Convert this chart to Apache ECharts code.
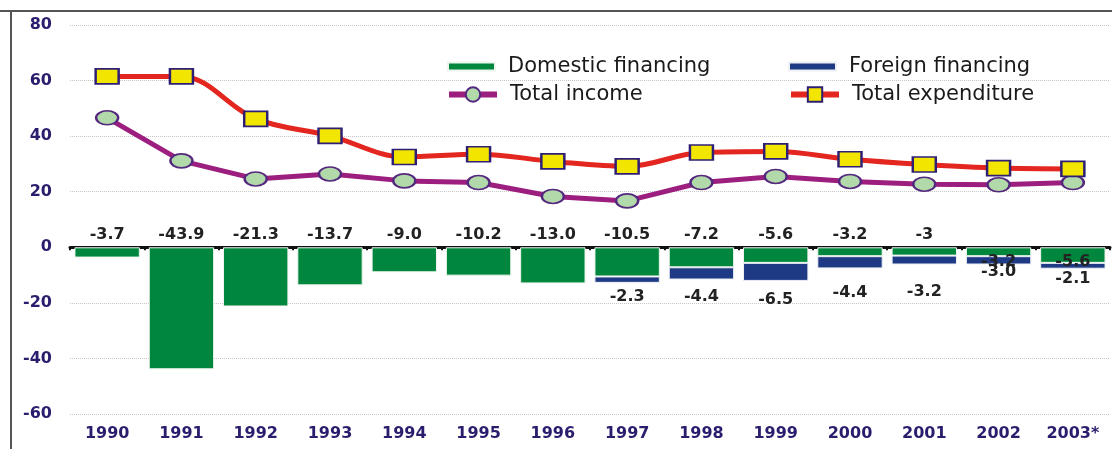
<!DOCTYPE html>
<html>
<head>
<meta charset="utf-8">
<script src="https://cdn.jsdelivr.net/npm/echarts@6/dist/echarts.min.js"></script>
<style>
  html, body { margin: 0; padding: 0; background: #fff; }
  #chart { width: 1112px; height: 449px; }
</style>
</head>
<body>
<div id="chart"></div>
<script>
// data
const years = ['1990', '1991', '1992', '1993', '1994', '1995', '1996', '1997', '1998', '1999', '2000', '2001', '2002', '2003*']
const domestic = [-3.7, -43.9, -21.3, -13.7, -9.0, -10.2, -13.0, -10.5, -7.2, -5.6, -3.2, -3, -3.2, -5.6]
const foreign = [null, null, null, null, null, null, null, -2.3, -4.4, -6.5, -4.4, -3.2, -3.0, -2.1]
const income = [46.6, 31.1, 24.6, 26.4, 23.9, 23.3, 18.3, 16.7, 23.3, 25.5, 23.7, 22.7, 22.5, 23.3]
const expenditure = [61.5, 61.5, 46.2, 40.1, 32.5, 33.5, 30.9, 29.1, 34.1, 34.5, 31.7, 29.8, 28.5, 28.2]
// the source prints this one domestic label without a decimal
const wholeLabelYears = ['2001']

// label nudges (vertical, px)
const domesticLabelDy = [0, 0, 0, 0, 0, 0, 0, 0, 0, 0, 0, 0, 27, 27]
const foreignLabelDy = [0, 0, 0, 0, 0, 0, 0, 1, 4, 6, 11, 14, -6, -3]

const FONT = 'DejaVu Sans'
const axisColor = '#2b1d6e'
const labelText = { fontFamily: FONT, fontWeight: 'bold', fontSize: 16, color: '#222' }

const fmtDomestic = p => wholeLabelYears.includes(p.name) ? String(p.value) : Number(p.value).toFixed(1)
const fmtForeign = p => Number(p.value).toFixed(1)

const chart = echarts.init(document.getElementById('chart'))

const legendBase = {
    orient: 'horizontal',
    textStyle: { fontFamily: FONT, fontSize: 21, color: '#1a1a1a', padding: [0, 0, 0, 8] },
    selectedMode: false
}

const option = {
    animation: false,
    backgroundColor: '#fff',
    grid: { left: 70, right: 2, top: 25, bottom: 35 },
    legend: [
        { ...legendBase, data: [{ name: 'Domestic financing', icon: 'rect' }], left: 442, top: 51, itemWidth: 47, itemHeight: 8 },
        { ...legendBase, data: [{ name: 'Foreign financing', icon: 'rect' }], left: 783, top: 51, itemWidth: 47, itemHeight: 8 },
        { ...legendBase, data: ['Total income'], left: 441, top: 79, itemWidth: 48, itemHeight: 18, lineStyle: { width: 6 } },
        { ...legendBase, data: ['Total expenditure'], left: 783, top: 79, itemWidth: 48, itemHeight: 18, lineStyle: { width: 6 } }
    ],
    xAxis: [
        {
            type: 'category',
            data: years,
            axisLine: { onZero: true, lineStyle: { color: '#111', width: 3 } },
            axisTick: { show: true, length: 3, lineStyle: { color: '#111', width: 2 } },
            axisLabel: { show: false },
            splitLine: { show: false }
        },
        {
            type: 'category',
            data: years,
            position: 'bottom',
            axisLine: { show: false, onZero: false },
            axisTick: { show: false },
            axisLabel: { margin: 12, fontFamily: FONT, fontWeight: 'bold', fontSize: 16, color: axisColor },
            splitLine: { show: false }
        }
    ],
    yAxis: {
        type: 'value',
        min: -60,
        max: 80,
        interval: 20,
        axisLine: { show: false },
        axisTick: { show: false },
        axisLabel: { margin: 18, fontFamily: FONT, fontWeight: 'bold', fontSize: 16, color: axisColor },
        splitLine: { lineStyle: { type: 'dotted', color: '#c6c6c6', width: 1 } }
    },
    series: [
        {
            name: 'Domestic financing',
            type: 'bar',
            stack: 'fin',
            barCategoryGap: '12%',
            itemStyle: { color: '#00873d', borderColor: '#eef5ee', borderWidth: 1 },
            label: { show: true, position: 'top', distance: 4, formatter: fmtDomestic, ...labelText },
            data: domestic.map((v, i) => ({ value: v, label: { offset: [0, domesticLabelDy[i]] } }))
        },
        {
            name: 'Foreign financing',
            type: 'bar',
            stack: 'fin',
            itemStyle: { color: '#1f3a85', borderColor: '#eef0f5', borderWidth: 1 },
            label: { show: true, position: 'bottom', distance: 5, formatter: fmtForeign, ...labelText },
            data: foreign.map((v, i) => ({ value: v, label: { offset: [0, foreignLabelDy[i]] } }))
        },
        {
            name: 'Total income',
            type: 'line',
            data: income,
            symbol: 'circle',
            symbolSize: [22, 14],
            lineStyle: { color: '#9c1f7f', width: 5 },
            itemStyle: { color: '#b2d9aa', borderColor: '#55287f', borderWidth: 2 },
            z: 5
        },
        {
            name: 'Total expenditure',
            type: 'line',
            data: expenditure,
            smooth: 0.35,
            symbol: 'rect',
            symbolSize: [23, 15],
            lineStyle: { color: '#e3261f', width: 5 },
            itemStyle: { color: '#f2e600', borderColor: '#2e1f75', borderWidth: 2 },
            z: 6
        }
    ],
    graphic: [
        { type: 'line', shape: { x1: 0, y1: 11, x2: 1112, y2: 11 }, style: { stroke: '#555', lineWidth: 2 } },
        { type: 'line', shape: { x1: 11, y1: 11, x2: 11, y2: 449 }, style: { stroke: '#555', lineWidth: 2 } }
    ]
}

chart.setOption(option)
</script>
</body>
</html>
